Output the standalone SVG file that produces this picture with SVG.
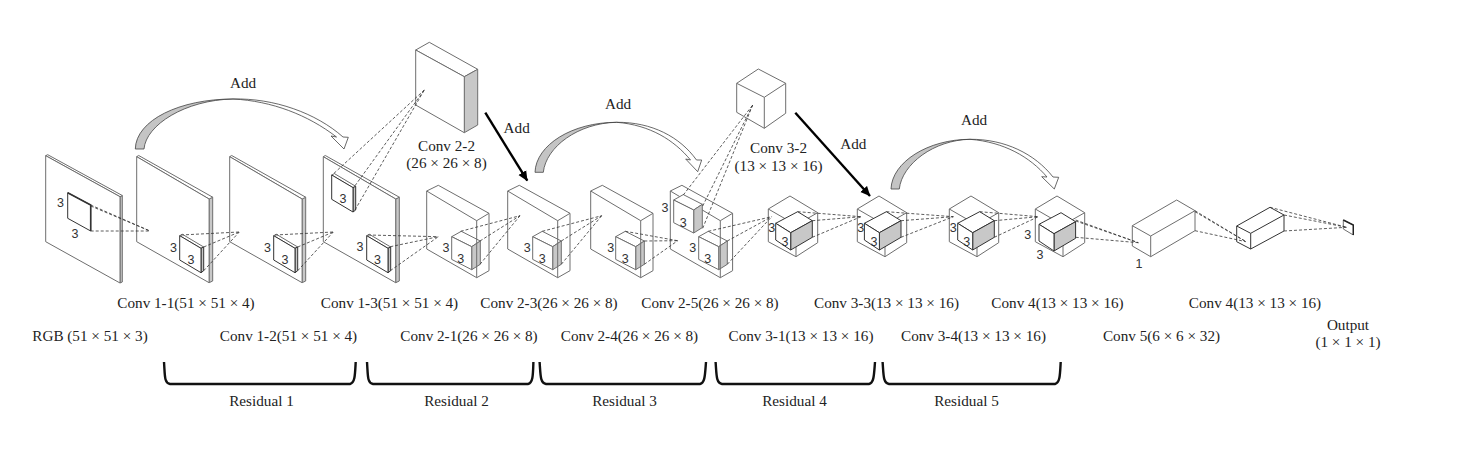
<svg xmlns="http://www.w3.org/2000/svg" width="1468" height="461" viewBox="0 0 1468 461">
<style>
text{font-family:"Liberation Serif","Times New Roman",serif;font-size:15.2px;fill:#222;text-anchor:middle}
text.n{font-family:"Liberation Sans",Arial,sans-serif;font-size:12.5px;fill:#333}
.w{fill:#fff;stroke:#6e6e6e;stroke-width:1;stroke-linejoin:round}
.k{fill:#fff;stroke:#333;stroke-width:1;stroke-linejoin:round}
.g{fill:#c8c8c8;stroke:#6e6e6e;stroke-width:1;stroke-linejoin:round}
.gk{fill:#c8c8c8;stroke:#333;stroke-width:1;stroke-linejoin:round}
.l{fill:none;stroke:#6e6e6e;stroke-width:1}
.d{fill:none;stroke:#333;stroke-width:.8;stroke-dasharray:3 2}
.ag{fill:#c4c4c4;stroke:#444;stroke-width:.8;stroke-linejoin:round}
.aw{fill:#fff;stroke:#444;stroke-width:.8;stroke-linejoin:round}
.t{fill:none;stroke:#000;stroke-width:2.4}
.b{fill:none;stroke:#111;stroke-width:2.4}
</style>
<defs>
<marker id="ah" markerUnits="userSpaceOnUse" markerWidth="11" markerHeight="11" refX="9.5" refY="5" orient="auto"><path d="M0,0.5 L10,5 L0,9.5z" fill="#000"/></marker>
<g id="plate"><path class="g" d="M72.4,42.3 L76,40.5 L76,124.3 L72.4,126z"/><path class="w" d="M0,0 L2,-1.2 L76,40.5 L72.4,42.3z"/><path class="w" d="M0,0 L72.4,42.3 L72.4,126 L0,85z"/></g>
<g id="tile"><path class="w" d="M0,0 L2.7,-1.4 L24,11.3 L21.3,12.6z"/><path class="gk" d="M21.3,12.6 L24,11.3 L24,35 L21.3,37z"/><path class="k" d="M0,0 L21.3,12.6 L21.3,37 L0,24.3z"/></g>
<g id="block"><path class="w" d="M0,0 L11.6,-5.7 L62.3,22.3 L62.3,79.7 L50,86.7 L0,58z"/><path class="l" d="M0,0 L50,29.7 L62.3,22.3"/></g>
<path id="blockedge" class="l" d="M50,29.7 L50,86.7"/>
<g id="inner"><path class="w" d="M0,0 L9.6,-5.4 L28.6,4.3 L20,10z"/><path class="g" d="M20,10 L28.6,4.3 L28.6,27.6 L20,33z"/><path class="w" d="M0,0 L20,10 L20,33 L0,22.7z"/></g>
<g id="cube"><path class="w" d="M0,0 L21.7,-13 L49.4,3.7 L49.4,33.7 L27.7,47.7 L0,32.7z"/><path class="l" d="M0,0 L27.7,16 L49.4,3.7 M27.7,16 L27.7,47.7"/></g>
<g id="icube"><path class="k" d="M0,0 L22,-11.6 L36.6,-2.6 L15,9.4z"/><path class="gk" d="M15,9.4 L36.6,-2.6 L36.6,14 L15,26.7z"/><path class="k" d="M0,0 L15,9.4 L15,26.7 L0,16.7z"/></g>
</defs>
<rect width="1468" height="461" fill="#fff"/>

<g id="rgb">
<path class="g" d="M120,196.7 L122.3,195.5 L122.3,282 L120,283z"/><path class="w" d="M45.7,155.7 L47.7,154.7 L122.3,195.5 L120,196.7z"/><path class="w" d="M45.7,155.7 L120,196.7 L120,283 L45.7,241.7z"/>
<path class="k" d="M67.7,192.7 L90.7,205 L90.7,231 L67.7,218.3z"/><path d="M67.7,192.7 L90.7,205 L90.7,231" fill="none" stroke="#333" stroke-width="1.6"/>
<text class="n" x="60.500" y="206.500">3</text><text class="n" x="75" y="237.500">3</text>
<text x="90" y="341">RGB (51 × 51 × 3)</text></g>

<g id="conv1-1"><use href="#plate" x="136.700" y="156.700"/><use href="#tile" x="179.700" y="235.700"/>
<text class="n" x="173.500" y="251.500">3</text><text class="n" x="191" y="263.500">3</text>
<text x="186" y="308">Conv 1-1(51 × 51 × 4)</text></g>

<g id="conv1-2"><use href="#plate" x="229.700" y="156.700"/><use href="#tile" x="273.700" y="235.700"/>
<text class="n" x="267.500" y="251.500">3</text><text class="n" x="285" y="263.500">3</text>
<text x="288.500" y="341">Conv 1-2(51 × 51 × 4)</text></g>

<g id="conv1-3"><use href="#plate" x="323.300" y="156.700"/><use href="#tile" x="331.700" y="175"/><use href="#tile" x="366.700" y="235.700"/>
<text class="n" x="343" y="202.500">3</text><text class="n" x="360" y="250.500">3</text><text class="n" x="377.500" y="263.500">3</text>
<text x="389.500" y="308">Conv 1-3(51 × 51 × 4)</text></g>

<g id="conv2-2">
<path class="w" d="M415.700,50 L429.300,42.300 L477.700,69.300 L464.300,76.700z"/><path class="g" d="M464.300,76.700 L477.700,69.300 L477.700,125 L464.300,132.700z"/><path class="w" d="M415.700,50 L464.300,76.700 L464.300,132.700 L415.700,105z"/>
<text x="446.500" y="150.500">Conv 2-2</text><text x="446.500" y="168">(26 × 26 × 8)</text></g>

<g id="conv2-1"><use href="#block" x="426.700" y="191"/><use href="#inner" x="451.700" y="236.700"/><use href="#blockedge" x="426.700" y="191"/>
<text class="n" x="446" y="251.500">3</text><text class="n" x="460.700" y="262.500">3</text>
<text x="469" y="341">Conv 2-1(26 × 26 × 8)</text></g>

<g id="conv2-3"><use href="#block" x="507.700" y="191"/><use href="#inner" x="532.700" y="236.700"/><use href="#blockedge" x="507.700" y="191"/>
<text class="n" x="527.300" y="251.500">3</text><text class="n" x="542.300" y="262.500">3</text>
<text x="549" y="308">Conv 2-3(26 × 26 × 8)</text></g>

<g id="conv2-4"><use href="#block" x="590.700" y="191"/><use href="#inner" x="615.700" y="236.700"/><use href="#blockedge" x="590.700" y="191"/>
<text class="n" x="610.700" y="251.500">3</text><text class="n" x="625.300" y="262.500">3</text>
<text x="629.500" y="341">Conv 2-4(26 × 26 × 8)</text></g>

<g id="conv2-5"><use href="#block" x="670.300" y="191"/><use href="#inner" x="673.700" y="200"/><use href="#inner" x="698.700" y="236.700"/><use href="#blockedge" x="670.300" y="191"/>
<text class="n" x="665" y="211.500">3</text><text class="n" x="683.300" y="226.500">3</text><text class="n" x="692.700" y="251.500">3</text><text class="n" x="707.700" y="262.500">3</text>
<text x="710" y="308">Conv 2-5(26 × 26 × 8)</text></g>

<g id="conv3-2">
<path class="w" d="M736.700,83.300 L758.300,69 L785.700,83.300 L785.700,113.300 L764.300,128.300 L736.700,112.300z"/><path class="l" d="M736.700,83.300 L764.300,97.300 L785.700,83.300 M764.300,97.300 L764.300,128.300"/>
<text x="778.500" y="153">Conv 3-2</text><text x="778.500" y="171">(13 × 13 × 16)</text></g>

<g id="conv3-1"><use href="#cube" x="768.300" y="209"/><use href="#icube" x="775.700" y="223.300"/>
<text class="n" x="771.700" y="231.500">3</text><text class="n" x="785" y="245.500">3</text>
<text x="801" y="341">Conv 3-1(13 × 13 × 16)</text></g>

<g id="conv3-3"><use href="#cube" x="857.300" y="209"/><use href="#icube" x="864.400" y="223.300"/>
<text class="n" x="860.700" y="231.500">3</text><text class="n" x="874" y="245.500">3</text>
<text x="886.500" y="308">Conv 3-3(13 × 13 × 16)</text></g>

<g id="conv3-4"><use href="#cube" x="949.300" y="209"/><use href="#icube" x="957.700" y="223.300"/>
<text class="n" x="953.300" y="231.500">3</text><text class="n" x="966.700" y="245.500">3</text>
<text x="973.500" y="341">Conv 3-4(13 × 13 × 16)</text></g>

<g id="conv4"><use href="#cube" x="1035.300" y="209"/><use href="#icube" x="1039" y="224.300"/>
<text class="n" x="1027.700" y="238.500">3</text><text class="n" x="1040" y="259">3</text>
<text x="1057.500" y="308">Conv 4(13 × 13 × 16)</text></g>

<g id="conv5">
<path class="w" d="M1132.300,225.700 L1176.700,200 L1195,210.700 L1195,230.700 L1150.700,256.700 L1132.300,246z"/><path class="l" d="M1132.300,225.700 L1150.700,236 L1195,210.700 M1150.700,236 L1150.700,256.700"/>
<text class="n" x="1139" y="267.500">1</text>
<text x="1161.500" y="341">Conv 5(6 × 6 × 32)</text></g>

<g id="conv4b">
<path class="k" d="M1236.700,226 L1270,207.300 L1284,215 L1284,231 L1250.700,249 L1236.700,241.700z"/><path fill="none" stroke="#333" d="M1236.700,226 L1250.700,233.300 L1284,215 M1250.700,233.300 L1250.700,249"/>
<text x="1255" y="308">Conv 4(13 × 13 × 16)</text></g>

<g id="output">
<path class="w" d="M1343.300,220 L1353.300,225 L1353.300,235 L1343.300,229z"/><path d="M1343.300,220 L1353.300,225 L1353.300,235" fill="none" stroke="#222" stroke-width="1.4"/>
<text x="1348" y="330">Output</text><text x="1348" y="347">(1 × 1 × 1)</text></g>

<g id="residual1"><path class="b" d="M164,362 C165,375 164,383 170,384 L350,384 C355,383 355,375 355.700,362"/><text x="261.500" y="406">Residual 1</text></g>
<g id="residual2"><path class="b" d="M367,362 C368,375 367,383 373,384 L528,384 C533,383 533,375 533.400,362"/><text x="456.500" y="406">Residual 2</text></g>
<g id="residual3"><path class="b" d="M539.600,362 C540.600,375 540,383 546,384 L700,384 C705,383 705,375 706,362"/><text x="624.500" y="406">Residual 3</text></g>
<g id="residual4"><path class="b" d="M715.600,362 C716.600,375 716,383 722,384 L869,384 C874,383 874,375 875,362"/><text x="794.500" y="406">Residual 4</text></g>
<g id="residual5"><path class="b" d="M882.600,362 C883.600,375 883,383 889,384 L1055,384 C1060,383 1060,375 1060.700,362"/><text x="966.500" y="406">Residual 5</text></g>

<g id="connectors">
<path class="ag" d="M135.300,149 C136,120 180,99 233,99 C185,100 146,125 144,149z"/>
<path class="aw" d="M233,99 C274,98 316,113 343,137 L348.300,137.300 L344,149 L331,136 L336.500,137 C308,115 272,101 233,99z"/>
<text x="243" y="88">Add</text>
<path class="ag" d="M535,172.300 C536,145 572,122.300 616.700,122.300 C578,123 546,147 543.300,172.300z"/>
<path class="aw" d="M616.700,122.300 C652,122 680,137 696.500,160 L701.700,160 L697.700,171.700 L685.700,159 L690.500,160 C674,140 650,125 616.700,122.300z"/>
<text x="618" y="108.500">Add</text>
<path class="ag" d="M891,189 C892,162 928,139.300 970,139.300 C934,140 902,164 899.300,189z"/>
<path class="aw" d="M970,139.300 C1005,139 1035,154 1053,177 L1058.700,177.300 L1054.300,189 L1041.700,176.700 L1047,177 C1030,157 1004,142 970,139.300z"/>
<text x="974" y="125">Add</text>
<path class="t" d="M485.300,112.700 L527.300,180.700" marker-end="url(#ah)"/>
<text x="516.700" y="132.500">Add</text>
<path class="t" d="M795.300,112.700 L870,196" marker-end="url(#ah)"/>
<text x="853.300" y="149">Add</text>

<path class="d" d="M90.700,205 L150,231 M90.700,206 L150,231 M90.700,231 L150,231"/>
<path class="d" d="M181,235 L239.300,232 M203.700,247 L239.300,232 M203.700,270.700 L239.300,232"/>
<path class="d" d="M275,235 L333.300,232 M297.700,247 L333.300,232 M297.700,270.700 L333.300,232"/>
<path class="d" d="M334,173.300 L424.300,90 M355,185.700 L424.300,90 M355,210 L424.300,90"/>
<path class="d" d="M368,235 L438.300,236.700 M390.300,246.700 L438.300,236.700 M390.300,270.700 L438.300,236.700"/>
<path class="d" d="M460.700,231.300 L520,215.700 M480,241 L520,215.700 M480,264.300 L520,215.700"/>
<path class="d" d="M542.300,231.300 L601.700,215.700 M561.300,241 L601.700,215.700 M561.300,264.300 L601.700,215.700"/>
<path class="d" d="M625.300,231.300 L677.700,240.700 M644.300,241 L677.700,240.700 M644.300,264.300 L677.700,240.700"/>
<path class="d" d="M683.300,195 L752.700,105 M702.700,206 L752.700,105 M702.700,228.300 L752.700,105"/>
<path class="d" d="M708.300,231.300 L771.700,216.700 M727.300,241 L771.700,216.700 M727.300,264.300 L771.700,216.700"/>
<path class="d" d="M797.700,211.700 L861,216.700 M812.300,220.700 L861,216.700 M812.300,237.300 L861,216.700"/>
<path class="d" d="M886.400,211.700 L953.300,216.700 M901,220.700 L953.300,216.700 M901,237.300 L953.300,216.700"/>
<path class="d" d="M979.700,211.700 L1038.300,216.700 M994.300,220.700 L1038.300,216.700 M994.300,237.300 L1038.300,216.700"/>
<path class="d" d="M1075.700,220 L1138.300,242.700 M1075.700,221 L1138.300,242.700 M1075.700,237.300 L1138.300,242.700"/>
<path class="d" d="M1195,210.700 L1246,241.700 M1195,211.700 L1246,241.700 M1195,230.700 L1246,241.700"/>
<path class="d" d="M1270,207.300 L1346.700,227.300 M1284,215 L1346.700,227.300 M1284,231 L1346.700,227.300"/>
</g>
</svg>
